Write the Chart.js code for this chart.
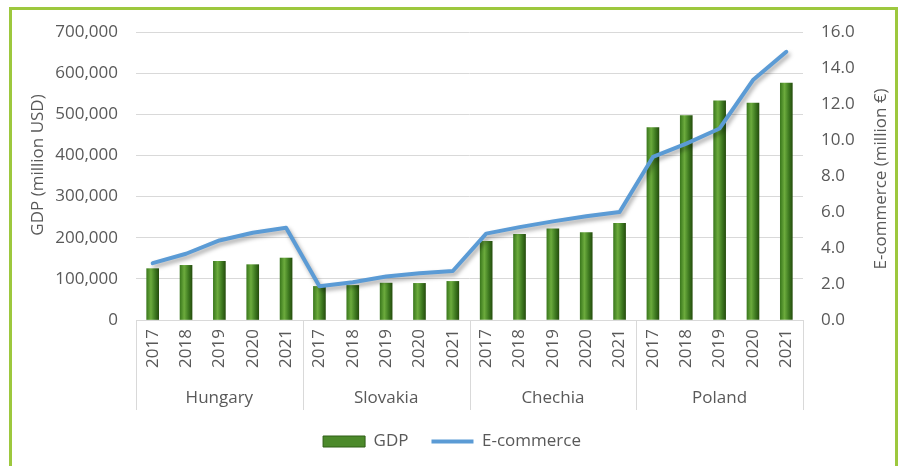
<!DOCTYPE html>
<html>
<head>
<meta charset="utf-8">
<script src="https://cdn.jsdelivr.net/npm/chart.js@4.4.1/dist/chart.umd.min.js"></script>
<style>
body{margin:0;background:#fff;}
#wrap{position:relative;width:904px;height:466px;overflow:hidden;}
#frame{position:absolute;left:9px;top:7px;width:883px;height:480px;border:3px solid #9DC83E;}
canvas{position:absolute;left:0;top:0;}
</style>
</head>
<body>
<div id="wrap"><div id="frame"></div><canvas id="myChart" width="904" height="466"></canvas></div>
<script>
const countries = ['Hungary', 'Slovakia', 'Chechia', 'Poland'];
const years = ['2017', '2018', '2019', '2020', '2021'];
// GDP, million USD
const gdp = [124800, 132800, 142600, 134500, 150600,
             81600, 84000, 89700, 89000, 93800,
             191300, 208400, 221400, 212500, 235200,
             467500, 496800, 532500, 527000, 575700];
// E-commerce, million EUR
const ecommerce = [3.16, 3.68, 4.42, 4.85, 5.13,
                   1.88, 2.10, 2.42, 2.60, 2.72,
                   4.80, 5.16, 5.48, 5.76, 6.00,
                   9.06, 9.80, 10.64, 13.33, 14.90];
const gdpTicks = {min: 0, max: 700000, step: 100000};
const ecTicks = {min: 0, max: 16, step: 2};

const labels = countries.flatMap(() => years);
const textColor = '#595959';
const fontFamily = '"Open Sans", sans-serif';

function barFill(context){
    const chart = context.chart;
    const xs = chart.scales.x;
    if(!xs || context.dataIndex === undefined) return '#4E8A2A';
    const cx = xs.getPixelForValue(context.dataIndex);
    const g = chart.ctx.createLinearGradient(cx - 6, 0, cx + 6, 0);
    g.addColorStop(0, '#3C7A1E');
    g.addColorStop(0.35, '#6CAB3D');
    g.addColorStop(0.7, '#3F7B21');
    g.addColorStop(1, '#264F0E');
    return g;
}

// group dividers under the axis and the two axis titles
const extras = {
    id: 'extras',
    beforeDatasetDraw(chart, args){
        if(args.index === 1){
            chart.ctx.save();
            chart.ctx.shadowColor = 'rgba(0,0,0,0.35)';
            chart.ctx.shadowBlur = 4;
            chart.ctx.shadowOffsetX = 2;
            chart.ctx.shadowOffsetY = 3;
        }
    },
    afterDatasetDraw(chart, args){
        if(args.index === 1) chart.ctx.restore();
    },
    afterDraw(chart){
        const {ctx, chartArea, scales} = chart;
        const x = scales.x, x2 = scales.x2, y = scales.y, y1 = scales.y1;
        ctx.save();
        ctx.strokeStyle = '#D9D9D9';
        ctx.lineWidth = 1;
        for(let g = 0; g <= countries.length; g++){
            const px = Math.round(x.getPixelForValue(g * years.length - 0.5)) + 0.5;
            ctx.beginPath();
            ctx.moveTo(px, chartArea.bottom);
            ctx.lineTo(px, x2.bottom);
            ctx.stroke();
        }
        ctx.fillStyle = textColor;
        ctx.font = '17px ' + fontFamily;
        ctx.textAlign = 'center';
        ctx.textBaseline = 'middle';
        const mid = (chartArea.top + chartArea.bottom) / 2;
        ctx.save();
        ctx.translate(y.left + 38, mid - 11);
        ctx.rotate(-Math.PI / 2);
        ctx.fillText('GDP (million USD)', 0, 0);
        ctx.restore();
        ctx.save();
        ctx.translate(y1.right - 23, mid + 3);
        ctx.rotate(-Math.PI / 2);
        ctx.fillText('E-commerce (million €)', 0, 0);
        ctx.restore();
        ctx.restore();
    }
};

new Chart(document.getElementById('myChart').getContext('2d'), {
    type: 'bar',
    data: {
        labels: labels,
        datasets: [{
            type: 'bar',
            label: 'GDP',
            data: gdp,
            yAxisID: 'y',
            xAxisID: 'x',
            backgroundColor: barFill,
            barThickness: 12,
            order: 2
        }, {
            type: 'line',
            label: 'E-commerce',
            data: ecommerce,
            yAxisID: 'y1',
            xAxisID: 'x',
            borderColor: '#5B9BD5',
            backgroundColor: '#5B9BD5',
            borderWidth: 4,
            pointRadius: 0,
            tension: 0,
            borderCapStyle: 'round',
            borderJoinStyle: 'round',
            order: 1
        }]
    },
    options: {
        responsive: false,
        animation: false,
        layout: {padding: {top: 32, left: 0, right: 0, bottom: 6}},
        plugins: {
            tooltip: {enabled: false},
            legend: {
                position: 'bottom',
                labels: {
                    color: textColor,
                    font: {family: fontFamily, size: 17},
                    usePointStyle: true,
                    pointStyleWidth: 42,
                    boxWidth: 42,
                    boxHeight: 11,
                    padding: 23,
                    generateLabels(){
                        return [
                            {text: 'GDP', pointStyle: 'rect', fillStyle: '#4C8A2B', strokeStyle: '#2E5E16', lineWidth: 1, fontColor: textColor, datasetIndex: 0},
                            {text: 'E-commerce', pointStyle: 'line', fillStyle: '#5B9BD5', strokeStyle: '#5B9BD5', lineWidth: 4, fontColor: textColor, datasetIndex: 1}
                        ];
                    }
                }
            }
        },
        scales: {
            x: {
                position: 'bottom',
                grid: {display: false, drawTicks: false},
                border: {display: true, color: '#D9D9D9'},
                ticks: {
                    color: textColor,
                    font: {family: fontFamily, size: 17},
                    minRotation: 90,
                    maxRotation: 90,
                    autoSkip: false,
                    padding: 9
                },
                afterFit(scale){ scale.height = 50; }
            },
            x2: {
                type: 'category',
                labels: countries,
                position: 'bottom',
                offset: true,
                grid: {display: false, drawTicks: false},
                border: {display: false},
                ticks: {
                    color: textColor,
                    font: {family: fontFamily, size: 17},
                    padding: 18
                },
                afterFit(scale){ scale.height = 40; }
            },
            y: {
                position: 'left',
                min: gdpTicks.min,
                max: gdpTicks.max,
                grid: {color: '#D9D9D9', drawTicks: false},
                border: {display: false},
                ticks: {
                    stepSize: gdpTicks.step,
                    color: textColor,
                    font: {family: fontFamily, size: 17},
                    padding: 18,
                    callback: v => v.toLocaleString('en-US')
                },
                afterFit(scale){ scale.width = 136; }
            },
            y1: {
                position: 'right',
                min: ecTicks.min,
                max: ecTicks.max,
                grid: {display: false, drawTicks: false},
                border: {display: false},
                ticks: {
                    stepSize: ecTicks.step,
                    color: textColor,
                    font: {family: fontFamily, size: 17},
                    padding: 18,
                    callback: v => v.toFixed(1)
                },
                afterFit(scale){ scale.width = 101; }
            }
        }
    },
    plugins: [extras]
});
</script>
</body>
</html>
